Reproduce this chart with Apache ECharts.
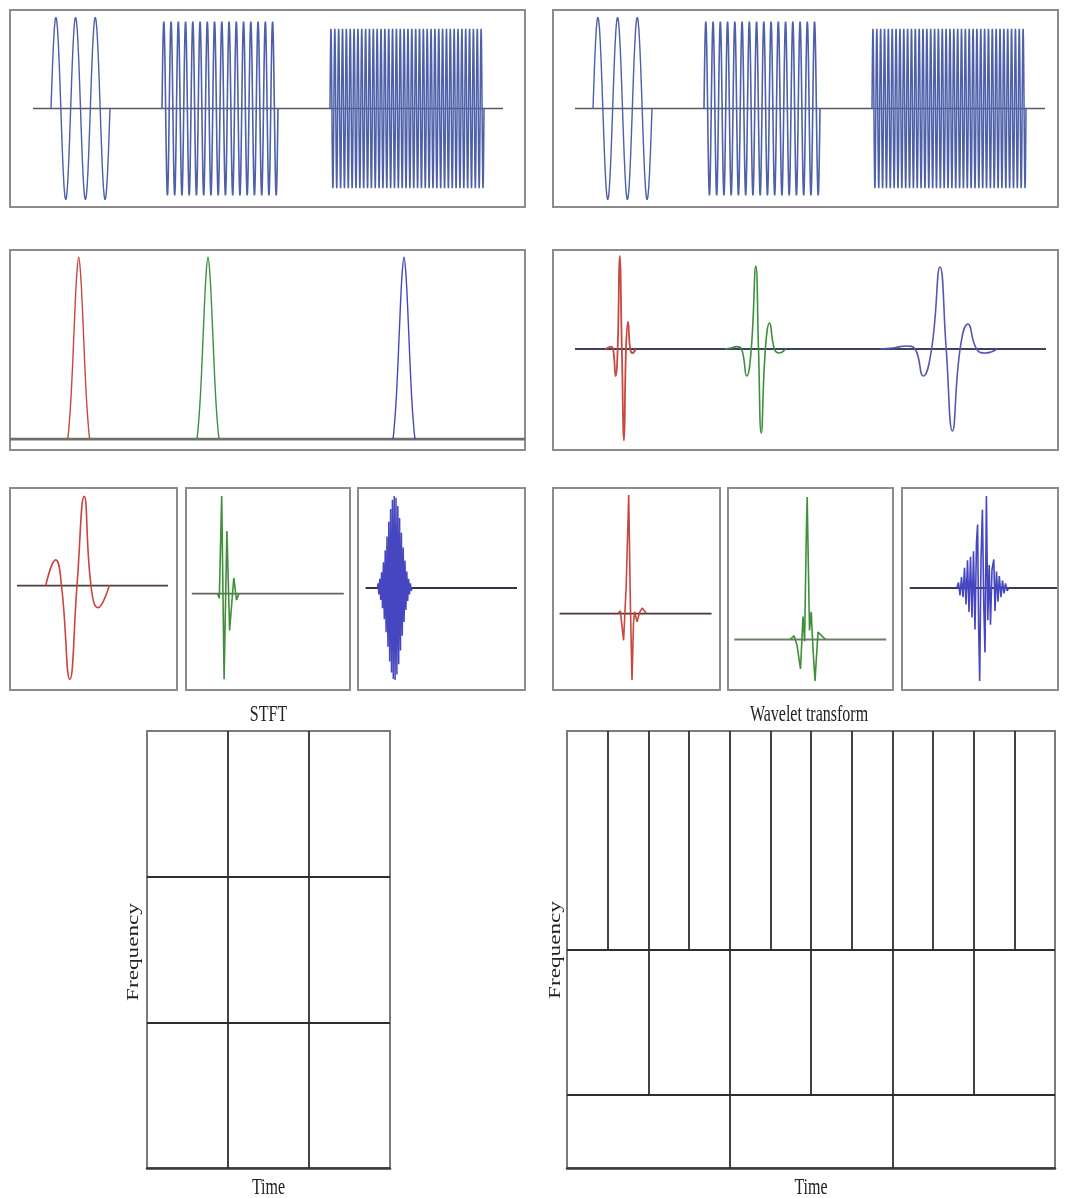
<!DOCTYPE html>
<html>
<head>
<meta charset="utf-8">
<script src="https://cdn.jsdelivr.net/npm/echarts@6/dist/echarts.min.js"></script>
<style>
  html, body { margin: 0; padding: 0; background: #fff; }
  #chart { width: 1067px; height: 1198px; }
</style>
</head>
<body>
<div id="chart"></div>
<script>
// ---- Test signal: three tone bursts of rising frequency on a flat line ----
const signalSpan = [0, 470];
const burstStart = [18, 129, 297];
const burstEnd = [77, 245, 451];
const burstCycles = [3, 16, 40];
const burstAmp = [1.02, 0.97, 0.89];

// ---- STFT: one fixed window slid to each burst ----
const windowShape = [[-11, 0], [-10, 0.05], [-8, 0.2], [-6, 0.42], [-4, 0.68], [-2, 0.9], [0, 1],
  [2, 0.9], [4, 0.68], [6, 0.42], [8, 0.2], [10, 0.05], [11, 0]];
const windowCenters = [45.7, 175, 371];
const windowSpan = [-23, 492];

// ---- Wavelet transform: wavelets stretched to each burst ----
const waveletSpan = [0, 471];
const waveletRed = [[30, 0], [33, 0.012], [35.6, 0.024], [38.1, 0], [40.6, -0.27], [42.65, 0], [44.7, 0.93],
  [46.85, 0], [49, -0.915], [51, 0], [53, 0.27], [55.2, 0], [57.4, -0.04], [60.8, 0]];
const waveletGreen = [[150, 0], [156, 0.01], [161.6, 0.024], [166.6, 0], [171.7, -0.27], [176.25, 0], [180.8, 0.83],
  [183.5, 0], [186.2, -0.84], [190.4, 0], [194.6, 0.26], [199.4, 0], [204.3, -0.04], [210.4, 0]];
const waveletBlue = [[305, 0], [318, 0.01], [331.4, 0.03], [340, 0], [348.2, -0.27], [356.6, 0], [365, 0.82],
  [371.2, 0], [377.4, -0.82], [385.1, 0], [392.9, 0.25], [401.6, 0], [410.4, -0.04], [422, 0]];

// ---- Windowed pieces of the signal (STFT side) ----
const stftPieceSpans = [[7, 158], [5.8, 157.8], [7.5, 159]];
const stftPieceRed = [[35.7, 0], [45.7, 0.28], [51.5, 0], [59.8, -1.02], [67, 0], [74.2, 0.97], [81, 0],
  [88, -0.24], [99.3, 0]];
const stftPieceGreen = [[31.5, 0], [33.3, -0.05], [35.7, 1.06], [38.1, -0.93], [40.9, 0.68], [43.6, -0.4],
  [47.8, 0.17], [50.5, -0.07], [52.9, 0]];
const stftPieceBlue = [[19.5, 0], [20.0, 0.05], [20.9, -0.07], [21.8, 0.1], [22.7, -0.13], [23.6, 0.17],
  [24.5, -0.22], [25.4, 0.28], [26.3, -0.34], [27.2, 0.41], [28.1, -0.48], [29.0, 0.56], [29.9, -0.64],
  [30.8, 0.72], [31.7, -0.8], [32.6, 0.86], [33.5, -0.92], [34.4, 0.96], [35.3, -0.99], [36.2, 1.0],
  [37.1, -1.0], [38.0, 0.98], [38.9, -0.94], [39.8, 0.89], [40.7, -0.83], [41.6, 0.76], [42.5, -0.68],
  [43.4, 0.6], [44.3, -0.52], [45.2, 0.44], [46.1, -0.37], [47.0, 0.3], [47.9, -0.24], [48.8, 0.18],
  [49.7, -0.14], [50.6, 0.1], [51.5, -0.07], [52.4, 0.05], [53.3, -0.03], [54, 0]];

// ---- Pieces seen through the wavelets ----
const wtPieceSpans = [[6.6, 158.6], [6.3, 158.2], [7.7, 155]];
const wtPieceRed = [[65, 0], [67.3, 0.03], [70.6, -0.29], [73.2, 0.3], [75.7, 1.29], [77.4, 0.1], [79, -0.72],
  [80.5, -0.1], [81.7, 0.02], [84.1, -0.09], [86.5, 0.01], [89.1, 0.06], [93.5, 0]];
const wtPieceGreen = [[62, 0], [66, 0.04], [69, -0.06], [72.5, -0.32], [75, 0.25], [76.6, -0.02], [78.4, 1.2],
  [79.2, 1.55], [80.2, 0.9], [81.5, 0.1], [83.2, 0.3], [85, -0.1], [87, -0.45], [90, 0.08], [93.7, 0.04], [97.7, 0]];
const wtPieceBlue = [[54.8, 0], [56.5, 0.06], [58, -0.08], [59.5, 0.12], [61, -0.1], [62.5, 0.22], [64, -0.18],
  [65.5, 0.3], [67, -0.26], [68.5, 0.34], [70, -0.32], [71.5, 0.4], [73, -0.45], [74.5, 0.5], [75.6, 0.69],
  [76.6, -0.4], [77.7, -1.01], [79, 0.3], [80.4, 0.85], [81.8, -0.2], [83, -0.7], [84.4, 1.0], [85.8, -0.35],
  [87.2, 0.25], [88.5, -0.4], [90, 0.2], [91.8, 0.31], [93, -0.25], [94.5, 0.18], [96, -0.15], [97.3, 0.13],
  [99, -0.1], [100.5, 0.08], [102, -0.06], [103.5, 0.05], [105, -0.03], [106.9, 0]];

// ---- Time-frequency tilings ----
const stftFreqEdges = [0, 2, 4, 6];
const stftTimeCells = [3, 3, 3];
const wtFreqEdges = [0, 1, 3, 6];
const wtTimeCells = [3, 6, 12];

// ---------------------------------------------------------------
const RED = '#c9473f', GREEN = '#3f8f3a', BLUE = '#4646c0', SIG = '#4d60a8';
const SERIF = "'Liberation Serif', 'DejaVu Serif', serif";

const grids = [], xAxes = [], yAxes = [], series = [];

function addPanel(box, xr, yr, extraX) {
  const i = grids.length;
  grids.push({ left: box[0], top: box[1], width: box[2], height: box[3], show: true,
    borderColor: '#8c8c8c', borderWidth: 2, backgroundColor: '#fff', containLabel: false });
  xAxes.push(Object.assign({ gridIndex: i, type: 'value', min: xr[0], max: xr[1], show: false }, extraX || {}));
  yAxes.push({ gridIndex: i, type: 'value', min: yr[0], max: yr[1], show: false });
  return i;
}

function addLine(gi, data, color, width, smooth, z) {
  series.push({ type: 'line', xAxisIndex: gi, yAxisIndex: gi, data: data, showSymbol: false, symbol: 'none',
    smooth: smooth || false, lineStyle: { color: color, width: width }, silent: true, animation: false,
    z: z || 2 });
}

function burstData(i) {
  const pts = [];
  const n = burstCycles[i] * 24;
  for (let k = 0; k <= n; k++) {
    const t = burstStart[i] + (burstEnd[i] - burstStart[i]) * k / n;
    pts.push([t, burstAmp[i] * Math.sin(2 * Math.PI * burstCycles[i] * k / n)]);
  }
  return pts;
}

// Row 1: the signal, twice
[[[10, 10, 515, 197], [-23, 492]], [[553, 10, 505, 197], [-22, 483]]].forEach(function (p) {
  const g = addPanel(p[0], p[1], [-1.1, 1.1]);
  addLine(g, [[signalSpan[0], 0], [signalSpan[1], 0]], '#5a5a66', 1.6, false, 2);
  const widths = [1.4, 1.6, 1.5];
  for (let i = 0; i < burstStart.length; i++) addLine(g, burstData(i), SIG, widths[i], false, 3);
});

// Row 2 left: STFT windows
const gWin = addPanel([10, 250, 515, 200], [-23, 492], [-0.06, 1.04]);
addLine(gWin, [[windowSpan[0], 0], [windowSpan[1], 0]], '#6e6e6e', 2.8, false, 2);
[RED, GREEN, BLUE].forEach(function (c, i) {
  addLine(gWin, windowShape.map(function (p) { return [p[0] + windowCenters[i], p[1]]; }), c, 1.4, 0.4, 3);
});

// Row 2 right: wavelets
const gWav = addPanel([553, 250, 505, 200], [-22, 483], [-1.01, 0.99]);
addLine(gWav, [[waveletSpan[0], 0], [waveletSpan[1], 0]], '#3f4160', 2, false, 2);
addLine(gWav, waveletRed, RED, 1.8, 0.5, 3);
addLine(gWav, waveletGreen, GREEN, 1.6, 0.5, 3);
addLine(gWav, waveletBlue, '#5656b4', 1.6, 0.5, 3);

// Row 3: pieces
const stftBoxes = [[10, 488, 167, 202], [186, 488, 164, 202], [358, 488, 167, 202]];
const stftY = [[-1.135, 1.061], [-1.048, 1.148], [-1.109, 1.087]];
const stftPieces = [[stftPieceRed, RED, '#4e3c3c', 0.5, 1.6], [stftPieceGreen, GREEN, '#5c6a58', false, 1.6],
  [stftPieceBlue, BLUE, '#35354a', false, 1.5]];
stftBoxes.forEach(function (b, i) {
  const g = addPanel(b, [0, b[2]], stftY[i]);
  addLine(g, [[stftPieceSpans[i][0], 0], [stftPieceSpans[i][1], 0]], stftPieces[i][2], 1.8, false, 2);
  addLine(g, stftPieces[i][0], stftPieces[i][1], stftPieces[i][4], stftPieces[i][3], 3);
});

const wtBoxes = [[553, 488, 167, 202], [728, 488, 165, 202], [902, 488, 156, 202]];
const wtY = [[-0.83, 1.365], [-0.549, 1.647], [-1.109, 1.087]];
const wtPieces = [[wtPieceRed, RED, '#4a3636'], [wtPieceGreen, GREEN, '#6f806b'], [wtPieceBlue, BLUE, '#3a3a52']];
wtBoxes.forEach(function (b, i) {
  const g = addPanel(b, [0, b[2]], wtY[i]);
  addLine(g, [[wtPieceSpans[i][0], 0], [wtPieceSpans[i][1], 0]], wtPieces[i][2], 1.8, false, 2);
  addLine(g, wtPieces[i][0], wtPieces[i][1], 1.6, false, 3);
});

// Row 4: tilings
function tiling(box, edges, cells) {
  const g = addPanel(box, [0, 1], [0, edges[edges.length - 1]], {
    show: true, axisLine: { show: true, onZero: false, lineStyle: { color: '#3a3a3a', width: 2.5 } },
    axisTick: { show: false }, axisLabel: { show: false }, splitLine: { show: false }
  });
  grids[g].borderColor = '#7a7a7a';
  const segs = [];
  for (let i = 0; i < cells.length; i++) {
    const y0 = edges[i], y1 = edges[i + 1];
    if (i > 0) segs.push({ coords: [[0, y0], [1, y0]] });
    for (let k = 1; k < cells[i]; k++) segs.push({ coords: [[k / cells[i], y0], [k / cells[i], y1]] });
  }
  series.push({ type: 'lines', coordinateSystem: 'cartesian2d', xAxisIndex: g, yAxisIndex: g, data: segs,
    lineStyle: { color: '#2e2e2e', width: 1.8, opacity: 1 }, silent: true, animation: false, z: 3 });
}
tiling([147, 731, 243, 437], stftFreqEdges, stftTimeCells);
tiling([567, 731, 488, 437], wtFreqEdges, wtTimeCells);

// Labels (the figure's lettering is tall and narrow)
function label(text, x, y, rotated) {
  const el = { type: 'text', x: x, y: y, silent: true,
    style: { text: text, fontFamily: SERIF, fontSize: 16, fill: '#222',
      align: 'center', verticalAlign: 'middle', textAlign: 'center', textVerticalAlign: 'middle' } };
  if (rotated) { el.rotation = Math.PI / 2; el.scaleX = 1.45; } else { el.scaleY = 1.45; }
  return el;
}

const chart = echarts.init(document.getElementById('chart'), null, { renderer: 'canvas' });
chart.setOption({
  animation: false,
  backgroundColor: '#fff',
  grid: grids, xAxis: xAxes, yAxis: yAxes, series: series,
  graphic: [
    label('STFT', 268.5, 715),
    label('Wavelet transform', 809, 715),
    label('Time', 268.5, 1188),
    label('Time', 811, 1188),
    label('Frequency', 134, 952, true),
    label('Frequency', 556, 950, true)
  ]
});
</script>
</body>
</html>
